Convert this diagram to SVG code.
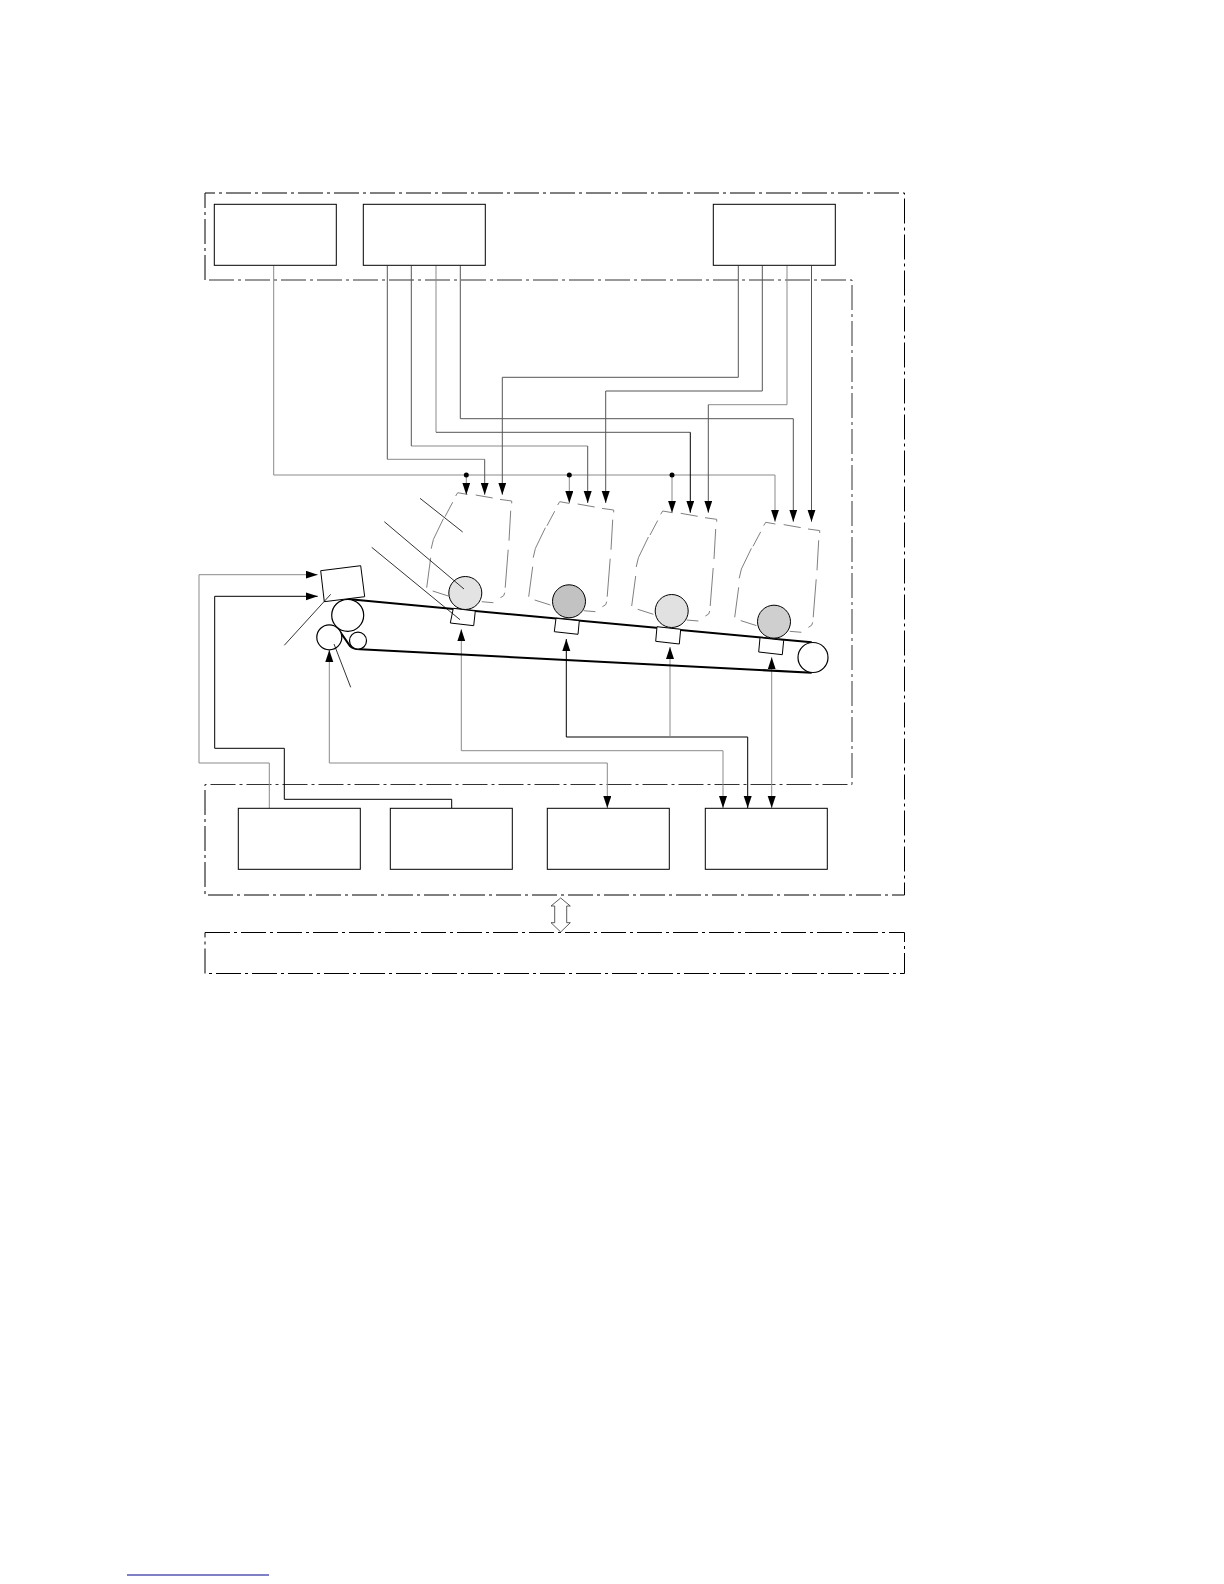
<svg xmlns="http://www.w3.org/2000/svg" xmlns:xlink="http://www.w3.org/1999/xlink" width="1224" height="1584" viewBox="0 0 1224 1584">
<style>
.box{fill:#fff;stroke:#000;stroke-width:1}
.frame{fill:none;stroke:#000;stroke-width:1;stroke-dasharray:25 4 3 4}
.frame2{fill:none;stroke:#333;stroke-width:1;stroke-dasharray:25 4 3 4}
.k,.d,.g{fill:none;stroke-width:1}
.k{stroke:#000}.d{stroke:#555}.g{stroke:#8a8a8a}
.a{marker-end:url(#arrow)}
.aa{marker-end:url(#arrow);marker-start:url(#arrow)}
.dot{fill:#000}
.housing{fill:none;stroke:#808080;stroke-width:1}
.drum{stroke:#000;stroke-width:1}
.roller{fill:#fff;stroke:#000;stroke-width:1.2}
.belt{fill:none;stroke:#000;stroke-width:2}
.part{fill:#fff;stroke:#000;stroke-width:1}
.lead{fill:none;stroke:#000;stroke-width:.8}
</style>
<defs>
<marker id="arrow" markerUnits="userSpaceOnUse" markerWidth="13" markerHeight="9" refX="12" refY="4" orient="auto-start-reverse"><path d="M0,0 L12,4 L0,8 Z" fill="#000"/></marker>
<path id="hs" class="housing" d="M-1,3.3 L1,0 L10.7,1.7 M19,2.3 L36,5.3 M43.3,6.7 L55,8.3 L55,10.7 M54,18 L52.3,48 M51.5,57 L48.5,95 M48,100 L47,103 L43.7,105 M36.7,110 L25,109 M-8.3,103.3 L-24,98.3 M-30,95 L-26,65 M-25.5,56 L-23.3,46.7 L-13.3,26 M-11.7,24 L-4,9.5"/>
</defs>
<rect width="1224" height="1584" fill="#fff"/>

<g id="frames">
<path id="frame-top" class="frame" d="M205,280 L205,193 L904.5,193 L904.5,895 L205,895 L205,784.5"/>
<path id="frame-inner" class="frame2" d="M209,280 L852,280 L852,784.5 L205,784.5"/>
<path id="frame-bottom" class="frame" d="M205,932.5 L904.5,932.5 L904.5,973.5 L205,973.5 Z"/>
</g>

<g id="housings">
<use xlink:href="#hs" href="#hs" x="456.7" y="492.7"/>
<use xlink:href="#hs" href="#hs" x="558.7" y="501.7"/>
<use xlink:href="#hs" href="#hs" x="661.7" y="511"/>
<use xlink:href="#hs" href="#hs" x="764.7" y="522.3"/>
</g>

<g id="connectors">
<path class="g a" d="M273.7,265.5 V475 H775 V521.7"/>
<path class="g a" d="M466.3,475 V494.7"/>
<path class="g a" d="M569.3,475 V503"/>
<path class="g a" d="M672,475 V512.7"/>
<circle class="dot" cx="466.3" cy="475" r="2.5"/>
<circle class="dot" cx="569.3" cy="475" r="2.5"/>
<circle class="dot" cx="672" cy="475" r="2.5"/>
<path class="g" d="M387.3,459.3 H484.7"/>
<path class="d" d="M387.3,265.5 V459.3"/>
<path class="d a" d="M484.7,459.3 V494.7"/>
<path class="g" d="M411.3,446 H587.7"/>
<path class="d" d="M411.3,265.5 V446"/>
<path class="d a" d="M587.7,446 V503"/>
<path class="g" d="M436,265.5 V432.3"/>
<path class="d" d="M436,432.3 H690.3"/>
<path class="k a" d="M690.3,432.3 V512.7"/>
<path class="d a" d="M460.3,265.5 V418.7 H793.3 V521.7"/>
<path class="d a" d="M738.3,265.5 V377.3 H502.3 V494.7"/>
<path class="d a" d="M762.3,265.5 V391 H605.7 V503"/>
<path class="g" d="M787,265.5 V404.7 H708.3"/>
<path class="d a" d="M708.3,404.7 V512.7"/>
<path class="d a" d="M811.5,265.5 V521.7"/>
<path class="g a" d="M269.3,808 V763 H199 V574.7 H317.7"/>
<path class="k a" d="M451.7,808 V799.3 H284.3 V748.3 H214.7 V596.3 H317.7"/>
<path class="g aa" d="M329.3,650 V763 H607.3 V808"/>
<path class="g aa" d="M461.3,629.3 V750.7 H723 V808"/>
<path class="k aa" d="M566.3,639 V737 H747.7 V808"/>
<path class="g a" d="M670,737 V647"/>
<path class="g aa" d="M771.7,657.3 V808"/>
</g>

<g id="belt">
<path class="belt" d="M347,599 L811.7,642.3"/>
<path class="belt" d="M336.7,626.7 L350,646 Q353,649 360,649.3 L811.7,672.7"/>
</g>

<g id="roller-1"><circle class="roller" cx="347.7" cy="615.3" r="16"/></g>
<g id="roller-2"><circle class="roller" cx="329.3" cy="637.3" r="12.5"/></g>
<g id="roller-3"><circle class="roller" cx="358" cy="640.7" r="8.5"/></g>
<g id="roller-4"><circle class="roller" cx="813" cy="657.5" r="15"/></g>

<g id="sensor"><polygon class="part" points="320.7,570.7 360.7,565.7 364.7,596.7 324.3,601.7"/></g>

<g id="part-1"><polygon class="part" points="453.3,608.3 475.3,611 473.7,625.7 450.3,623"/></g>
<g id="part-2"><polygon class="part" points="556,618.3 579.3,620.7 578,634.3 554.3,631.7"/></g>
<g id="part-3"><polygon class="part" points="657,626.7 680.7,629.3 679.3,644 655.7,641.3"/></g>
<g id="part-4"><polygon class="part" points="760,637.7 783.7,640.3 782.3,654.7 758.7,652"/></g>

<g id="drum-1"><circle class="drum" cx="465.3" cy="593" r="16.5" fill="#e3e3e3"/></g>
<g id="drum-2"><circle class="drum" cx="569" cy="601.3" r="16.5" fill="#c2c2c2"/></g>
<g id="drum-3"><circle class="drum" cx="671.7" cy="611" r="16.5" fill="#e1e1e1"/></g>
<g id="drum-4"><circle class="drum" cx="774" cy="621.7" r="16.5" fill="#cfcfcf"/></g>

<g id="leaders">
<path class="lead" d="M420,498.3 L462.7,532"/>
<path class="lead" d="M384.3,521.7 L464,589"/>
<path class="lead" d="M371.7,547.3 L460,619.7"/>
<path class="lead" d="M284.3,645.3 L330.7,594.3"/>
<path class="lead" d="M350.7,687.3 L334,644"/>
</g>

<g id="box-a"><rect class="box" x="214.3" y="204.3" width="122" height="61"/></g>
<g id="box-b"><rect class="box" x="363.3" y="204.3" width="122" height="61"/></g>
<g id="box-c"><rect class="box" x="713.3" y="204.3" width="122" height="61"/></g>
<g id="box-d"><rect class="box" x="238.3" y="808.3" width="122" height="61"/></g>
<g id="box-e"><rect class="box" x="390.3" y="808.3" width="122" height="61"/></g>
<g id="box-f"><rect class="box" x="547.3" y="808.3" width="122" height="61"/></g>
<g id="box-g"><rect class="box" x="705.3" y="808.3" width="122" height="61"/></g>

<g id="bus-arrow"><polygon points="560.7,898 570.3,906 566.7,906 566.7,922.7 570.3,922.7 560.7,932 551,922.7 554.7,922.7 554.7,906 551,906" fill="#fff" stroke="#333" stroke-width=".8"/></g>

<path id="footnote-rule" d="M127,1575 H269" fill="none" stroke="#00008b" stroke-width="1"/>
</svg>
